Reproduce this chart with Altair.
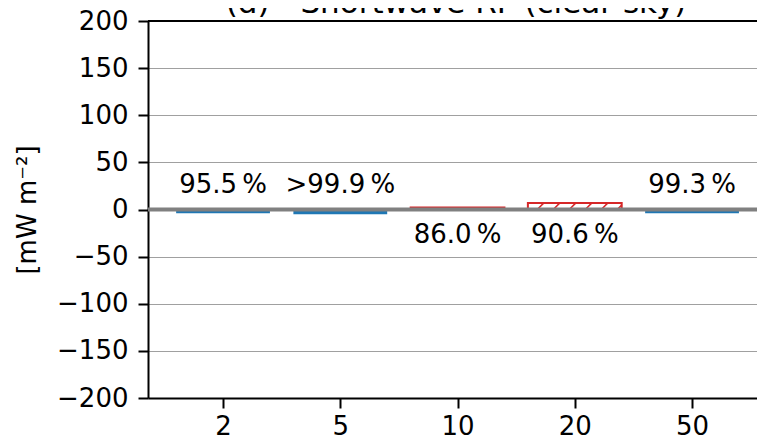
import altair as alt
import pandas as pd

# ---- data ----
categories = ["2", "5", "10", "20", "50"]
values = [-4.0, -5.0, 2.0, 7.0, -4.0]
labels = ["95.5\u2009%", ">99.9\u2009%", "86.0\u2009%", "90.6\u2009%", "99.3\u2009%"]
y_ticks = [-200, -150, -100, -50, 0, 50, 100, 150, 200]
title_text = "(d) - Shortwave RF (clear sky)"
y_title = "[mW m\u207b\u00b2]"

# ---- layout ----
W, H = 609, 377
STEP_PX = 117.25
XMIN = -0.64
XMAX = XMIN + W / STEP_PX
YMIN, YMAX = -200, 200
BAR_W = 0.8
FONT = "DejaVu Sans"

df = pd.DataFrame({"idx": list(range(len(categories))), "cat": categories,
                   "value": values, "label": labels})
df["x0"] = df["idx"] - BAR_W / 2
df["x1"] = df["idx"] + BAR_W / 2
df["zero"] = 0.0

# hatch lines ("//") for the positive (hatched) bars, derived from bar geometry
px_x = STEP_PX
px_y = H / (YMAX - YMIN)
spacing = 16 / px_x
rows = []
for _, r in df[df["value"] > 0].iterrows():
    v = r["value"]
    dx = (v * px_y) / px_x  # 45 degree slant
    xs = r["x0"] - dx
    while xs < r["x1"]:
        xb, yb, xt, yt = xs, 0.0, xs + dx, v
        if xb < r["x0"]:
            t = (r["x0"] - xb) / dx
            xb, yb = r["x0"], v * t
        if xt > r["x1"]:
            t = (r["x1"] - xs) / dx
            xt, yt = r["x1"], v * t
        if xt > xb:
            rows.append({"hx": xb, "hx2": xt, "hy": yb, "hy2": yt})
        xs += spacing
hatch = pd.DataFrame(rows)

xscale = alt.Scale(domain=[XMIN, XMAX], nice=False, zero=False)
yscale = alt.Scale(domain=[YMIN, YMAX], nice=False, zero=False)

label_expr = "[" + ",".join("'%s'" % c for c in categories) + "][datum.value]"

xaxis = alt.Axis(values=list(range(len(categories))), labelExpr=label_expr,
                 title=None, grid=False, labelPadding=5)
yaxis = alt.Axis(values=y_ticks, title=y_title, grid=True, gridColor="#a0a0a0",
                 gridWidth=1, labelPadding=10, titleX=-121, titleY=H / 2,
                 titleAlign="center", titleBaseline="middle", titleAngle=-90)


def X(field):
    return alt.X(field, scale=xscale, axis=xaxis)


def Y(field):
    return alt.Y(field, scale=yscale, axis=yaxis)


base = alt.Chart(df)

neg_bars = base.transform_filter("datum.value < 0").mark_rect(color="#1f77b4").encode(
    x=X("x0:Q"), x2="x1:Q", y=Y("value:Q"), y2="zero:Q",
)

pos_bars = base.transform_filter("datum.value >= 0").mark_rect(
    fill="white", stroke="#d62728", strokeWidth=2).encode(
    x=X("x0:Q"), x2="x1:Q", y=Y("value:Q"), y2="zero:Q",
)

hatch_layer = alt.Chart(hatch).mark_rule(color="#d62728", strokeWidth=1.5).encode(
    x=X("hx:Q"), x2="hx2:Q", y=Y("hy:Q"), y2="hy2:Q",
)

zero_line = alt.Chart(pd.DataFrame({"z": [0.0]})).mark_rule(
    color="#808080", strokeWidth=4).encode(y=Y("z:Q"))

top_spine = alt.Chart(pd.DataFrame({"t": [YMAX]})).mark_rule(
    color="black", strokeWidth=2).encode(y=Y("t:Q"))

text_above = base.transform_filter("datum.value < 0").mark_text(
    font=FONT, fontSize=26, baseline="alphabetic", align="center", dy=-16.5,
    color="black").encode(x=X("idx:Q"), y=Y("zero:Q"), text="label:N")

text_below = base.transform_filter("datum.value >= 0").mark_text(
    font=FONT, fontSize=26, baseline="alphabetic", align="center", dy=33.5,
    color="black").encode(x=X("idx:Q"), y=Y("zero:Q"), text="label:N")

title_layer = alt.Chart(pd.DataFrame({"t": [title_text]})).mark_text(
    font=FONT, fontSize=31, baseline="alphabetic", align="center",
    color="black").encode(
    x=alt.value(456 - 148), y=alt.value(-8), text="t:N")

chart = alt.layer(
    neg_bars, pos_bars, hatch_layer, zero_line, top_spine,
    text_above, text_below, title_layer
).properties(
    width=W, height=H,
    autosize=alt.AutoSizeParams(type="none"),
    padding={"left": 140, "top": 13, "right": 0, "bottom": 43},
).configure_view(stroke=None).configure_axis(
    domainColor="black", domainWidth=2, tickColor="black", tickWidth=2, tickSize=10,
    labelFont=FONT, labelFontSize=26, labelColor="black",
    titleFont=FONT, titleFontSize=26, titleColor="black", titleFontWeight="normal",
)

chart.save("out.html", embed_options={"renderer": "svg", "actions": False})
